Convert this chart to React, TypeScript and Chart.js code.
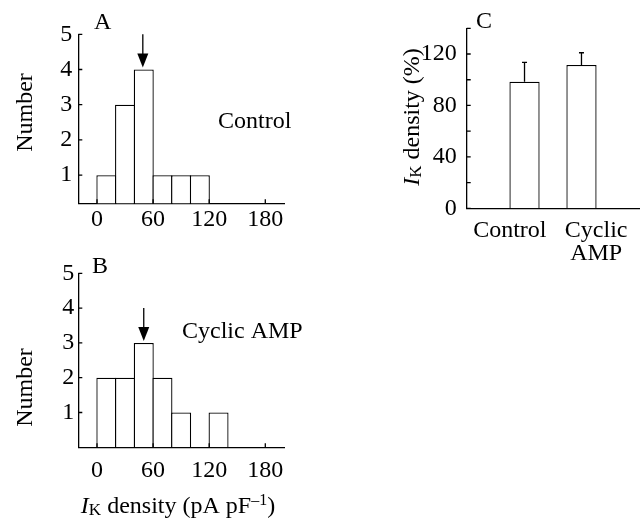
import React, { useEffect, useRef } from 'react';
import { Chart, registerables } from 'chart.js';

Chart.register(...registerables);

// ---------- data ----------
const binStarts = [0, 20, 40, 60, 80, 100, 120];
const binWidth = 20;
const controlCounts = [1, 3, 4, 1, 1, 1, 0];
const cyclicCounts = [2, 2, 3, 2, 1, 0, 1];
const controlMean = 49;
const cyclicMean = 50;
const densityTicks = [0, 60, 120, 180];
const countTicks = [1, 2, 3, 4, 5];
const groupLabels: (string | string[])[] = ['Control', ['Cyclic', 'AMP']];
const pctMeans = [98.5, 111.5];
const pctErrors = [15, 9.5];
const pctTicks = [0, 20, 40, 60, 80, 100, 120, 140];
const pctLabelStep = 40;

// ---------- styling ----------
const FONT = '"Liberation Serif", "Times New Roman", serif';
const LINE = 1.3;
const FS = 24;

type Box = {
  left: number; top: number; width: number; height: number;
  area: { left: number; top: number; right: number; bottom: number };
};

const boxA: Box = { left: 0, top: 0, width: 315, height: 245, area: { left: 78.3, top: 34.3, right: 284, bottom: 203.3 } };
const boxB: Box = { left: 0, top: 245, width: 315, height: 278, area: { left: 78.3, top: 273.3, right: 284, bottom: 447.3 } };
const boxC: Box = { left: 320, top: 0, width: 322, height: 290, area: { left: 466.7, top: 28.3, right: 639.3, bottom: 208.3 } };

type Part = { text: string; size: number; italic?: boolean; dy?: number };
type TextItem = { parts: Part[]; x: number; y: number; rotate?: boolean; align?: 'left' | 'center' };

function drawRich(ctx: CanvasRenderingContext2D, item: TextItem, box: Box) {
  const fontOf = (p: Part) => `${p.italic ? 'italic ' : ''}${p.size}px ${FONT}`;
  ctx.save();
  ctx.translate(item.x - box.left, item.y - box.top);
  if (item.rotate) ctx.rotate(-Math.PI / 2);
  ctx.fillStyle = '#000';
  ctx.textBaseline = 'alphabetic';
  ctx.textAlign = 'left';
  let total = 0;
  for (const p of item.parts) {
    ctx.font = fontOf(p);
    total += ctx.measureText(p.text).width;
  }
  let cx = item.align === 'left' ? 0 : -total / 2;
  for (const p of item.parts) {
    ctx.font = fontOf(p);
    ctx.fillText(p.text, cx, p.dy || 0);
    cx += ctx.measureText(p.text).width;
  }
  ctx.restore();
}

function textPlugin(items: TextItem[], box: Box) {
  return {
    id: 'texts',
    afterDraw(chart: any) {
      for (const it of items) drawRich(chart.ctx, it, box);
    },
  };
}

function inTicksPlugin(xLen: number, yLen: number) {
  return {
    id: 'inTicks',
    afterDraw(chart: any) {
      const { ctx, chartArea } = chart;
      ctx.save();
      ctx.strokeStyle = '#000';
      ctx.lineWidth = LINE;
      ctx.beginPath();
      if (xLen > 0) {
        const xs = chart.scales.x;
        for (const t of xs.ticks) {
          const px = xs.getPixelForValue(t.value);
          ctx.moveTo(px, chartArea.bottom);
          ctx.lineTo(px, chartArea.bottom - xLen);
        }
      }
      if (yLen > 0) {
        const ys = chart.scales.y;
        for (const t of ys.ticks) {
          const py = ys.getPixelForValue(t.value);
          ctx.moveTo(chartArea.left, py);
          ctx.lineTo(chartArea.left + yLen, py);
        }
      }
      ctx.stroke();
      ctx.restore();
    },
  };
}

function arrowPlugin(xVal: number, fromVal: number, toVal: number) {
  return {
    id: 'meanArrow',
    afterDraw(chart: any) {
      const { ctx } = chart;
      const px = chart.scales.x.getPixelForValue(xVal);
      const y0 = chart.scales.y.getPixelForValue(fromVal);
      const y1 = chart.scales.y.getPixelForValue(toVal) - 2;
      const headH = 14;
      const headW = 11;
      ctx.save();
      ctx.strokeStyle = '#000';
      ctx.fillStyle = '#000';
      ctx.lineWidth = LINE;
      ctx.beginPath();
      ctx.moveTo(px, y0);
      ctx.lineTo(px, y1 - headH + 1);
      ctx.stroke();
      ctx.beginPath();
      ctx.moveTo(px - headW / 2, y1 - headH);
      ctx.lineTo(px + headW / 2, y1 - headH);
      ctx.lineTo(px, y1);
      ctx.closePath();
      ctx.fill();
      ctx.restore();
    },
  };
}

const errorBarPlugin = {
  id: 'errorBars',
  afterDatasetsDraw(chart: any) {
    const { ctx } = chart;
    const ys = chart.scales.y;
    ctx.save();
    ctx.strokeStyle = '#000';
    ctx.lineWidth = LINE;
    chart.data.datasets.forEach((ds: any, i: number) => {
      const meta = chart.getDatasetMeta(i);
      meta.data.forEach((el: any, j: number) => {
        const v = ds.data[j];
        const e = ds.errors ? ds.errors[j] : null;
        if (v == null || e == null) return;
        const top = ys.getPixelForValue(v + e);
        ctx.beginPath();
        ctx.moveTo(el.x, el.y);
        ctx.lineTo(el.x, top);
        ctx.moveTo(el.x - 2.5, top);
        ctx.lineTo(el.x + 2.5, top);
        ctx.stroke();
      });
    });
    ctx.restore();
  },
};

function layoutFor(b: Box) {
  return {
    padding: {
      left: 0,
      bottom: 0,
      top: b.area.top - b.top,
      right: b.left + b.width - b.area.right,
    },
  };
}

const tickFont = (lineHeight = 1.2) => ({ family: FONT, size: FS, lineHeight });
const axisBorder = { display: true, color: '#000', width: LINE };
const noGrid = { display: false, drawTicks: false, tickLength: 0 };

function histConfig(box: Box, counts: number[], yMin: number, mean: number, xPad: number, yPad: number, texts: TextItem[]): any {
  const peak = Math.max(...counts);
  return {
    type: 'bar',
    data: {
      datasets: [
        {
          data: binStarts.map((s, i) => ({ x: s + binWidth / 2, y: counts[i] || null })),
          backgroundColor: '#fff',
          borderColor: '#000',
          borderWidth: LINE,
          borderSkipped: 'start',
          barPercentage: 1.07,
          categoryPercentage: 1,
        },
      ],
    },
    options: {
      animation: false,
      responsive: false,
      devicePixelRatio: 1,
      events: [],
      layout: layoutFor(box),
      plugins: { legend: { display: false }, tooltip: { enabled: false } },
      scales: {
        x: {
          type: 'linear',
          min: -20,
          max: 200,
          offset: false,
          grid: noGrid,
          border: axisBorder,
          afterBuildTicks: (s: any) => { s.ticks = densityTicks.map((v) => ({ value: v })); },
          ticks: { color: '#000', font: tickFont(), padding: xPad, autoSkip: false, maxRotation: 0 },
          afterFit: (s: any) => { s.height = box.top + box.height - box.area.bottom; },
        },
        y: {
          type: 'linear',
          min: yMin,
          max: 5,
          grid: noGrid,
          border: axisBorder,
          afterBuildTicks: (s: any) => { s.ticks = countTicks.map((v) => ({ value: v })); },
          ticks: { color: '#000', font: tickFont(), padding: yPad, autoSkip: false },
          afterFit: (s: any) => { s.width = box.area.left - box.left; },
        },
      },
    },
    plugins: [inTicksPlugin(4, 4), arrowPlugin(mean, peak + 1, peak), textPlugin(texts, box)],
  };
}

const textsA: TextItem[] = [
  { parts: [{ text: 'A', size: FS }], x: 94, y: 28.5, align: 'left' },
  { parts: [{ text: 'Control', size: FS }], x: 218, y: 128, align: 'left' },
  { parts: [{ text: 'Number', size: FS }], x: 32, y: 112.5, rotate: true },
];

const textsB: TextItem[] = [
  { parts: [{ text: 'B', size: FS }], x: 92, y: 272.5, align: 'left' },
  { parts: [{ text: 'Cyclic AMP', size: FS }], x: 182, y: 338, align: 'left' },
  { parts: [{ text: 'Number', size: FS }], x: 32, y: 387.5, rotate: true },
  {
    parts: [
      { text: 'I', size: FS, italic: true },
      { text: 'K', size: 17, dy: 2 },
      { text: ' density (pA pF', size: FS },
      { text: '\u20131', size: 16, dy: -8 },
      { text: ')', size: FS },
    ],
    x: 178,
    y: 513,
  },
];

const textsC: TextItem[] = [
  { parts: [{ text: 'C', size: FS }], x: 476, y: 28.3, align: 'left' },
  {
    parts: [
      { text: 'I', size: FS, italic: true },
      { text: 'K', size: 17, dy: 2 },
      { text: ' density (%)', size: FS },
    ],
    x: 419,
    y: 117,
    rotate: true,
  },
];

function barConfig(): any {
  const bar = {
    backgroundColor: '#fff',
    borderColor: '#000',
    borderWidth: LINE,
    borderSkipped: 'start',
  };
  return {
    type: 'bar',
    data: {
      labels: groupLabels,
      datasets: [
        { ...bar, data: [null, pctMeans[1]], errors: [null, pctErrors[1]] },
        { ...bar, data: [pctMeans[0], null], errors: [pctErrors[0], null] },
      ],
    },
    options: {
      animation: false,
      responsive: false,
      devicePixelRatio: 1,
      events: [],
      layout: layoutFor(boxC),
      datasets: { bar: { categoryPercentage: 0.68, barPercentage: 1.03 } },
      plugins: { legend: { display: false }, tooltip: { enabled: false } },
      scales: {
        x: {
          type: 'category',
          offset: true,
          grid: noGrid,
          border: axisBorder,
          ticks: { color: '#000', font: tickFont(0.95), padding: 11, autoSkip: false, maxRotation: 0 },
          afterFit: (s: any) => { s.height = boxC.top + boxC.height - boxC.area.bottom; },
        },
        y: {
          type: 'linear',
          min: 0,
          max: 140,
          grid: noGrid,
          border: axisBorder,
          afterBuildTicks: (s: any) => { s.ticks = pctTicks.map((v) => ({ value: v })); },
          ticks: {
            color: '#000',
            font: tickFont(),
            padding: 10,
            autoSkip: false,
            callback: (v: any) => (Number(v) % pctLabelStep === 0 ? String(v) : ''),
          },
          afterFit: (s: any) => { s.width = boxC.area.left - boxC.left; },
        },
      },
    },
    plugins: [inTicksPlugin(0, 4), errorBarPlugin, textPlugin(textsC, boxC)],
  };
}

function canvasStyle(b: Box): React.CSSProperties {
  return { position: 'absolute', left: b.left, top: b.top, width: b.width, height: b.height, display: 'block' };
}

export default function App() {
  const refA = useRef<HTMLCanvasElement>(null);
  const refB = useRef<HTMLCanvasElement>(null);
  const refC = useRef<HTMLCanvasElement>(null);

  useEffect(() => {
    const charts = [
      new Chart(refA.current as HTMLCanvasElement, histConfig(boxA, controlCounts, 0.2, controlMean, 2, 6, textsA)),
      new Chart(refB.current as HTMLCanvasElement, histConfig(boxB, cyclicCounts, 0, cyclicMean, 9, 4, textsB)),
      new Chart(refC.current as HTMLCanvasElement, barConfig()),
    ];
    return () => charts.forEach((c) => c.destroy());
  }, []);

  return (
    <div style={{ position: 'fixed', left: 0, top: 0, width: 642, height: 523, background: '#fff' }}>
      <canvas ref={refA} width={boxA.width} height={boxA.height} style={canvasStyle(boxA)} />
      <canvas ref={refB} width={boxB.width} height={boxB.height} style={canvasStyle(boxB)} />
      <canvas ref={refC} width={boxC.width} height={boxC.height} style={canvasStyle(boxC)} />
    </div>
  );
}
